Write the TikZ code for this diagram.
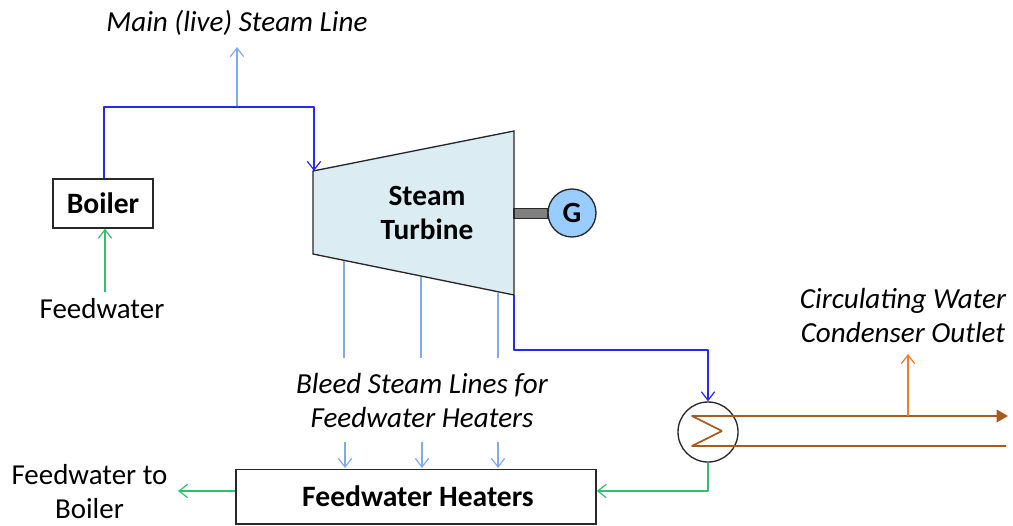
\documentclass[tikz,border=0pt]{standalone}
\usepackage{fontspec}
\setmainfont{Carlito}
\usetikzlibrary{arrows.meta,calc}
\definecolor{steamblue}{RGB}{40,40,245}
\definecolor{bleedblue}{RGB}{130,170,230}
\definecolor{fwgreen}{RGB}{50,190,110}
\definecolor{cwbrown}{RGB}{165,90,30}
\definecolor{cworange}{RGB}{237,125,49}
\definecolor{turbfill}{RGB}{219,236,243}
\definecolor{genfill}{RGB}{153,204,255}
\definecolor{boxline}{RGB}{40,40,40}
\tikzset{
  x=0.75pt,y=-0.75pt,
  openhead/.style={-{Straight Barb[length=6.5pt,width=10pt,line width=0.9pt]}},
  pipe/.style={line width=1.1pt,line join=round},
  steam/.style={pipe,steamblue},
  bleed/.style={pipe,bleedblue},
  feed/.style={pipe,fwgreen},
  cw/.style={pipe,cwbrown,line width=1.2pt},
  cwup/.style={pipe,cworange},
  boxnode/.style={draw=boxline,line width=1pt,fill=white,inner sep=0pt,font=\fontsize{22.2}{26}\selectfont\bfseries},
  lbl/.style={inner sep=0pt,align=center,font=\fontsize{21.7}{25.5}\selectfont},
  ilbl/.style={lbl,font=\fontsize{21.8}{25.5}\selectfont\itshape},
}
\begin{document}
\begin{tikzpicture}
\useasboundingbox (0,0) rectangle (1013,525);
% turbine
\coordinate (tA) at (313,171);
\coordinate (tB) at (514,131);
\coordinate (tC) at (514,295);
\coordinate (tD) at (313,254);
\draw[fill=turbfill,draw=boxline,line width=1pt,line join=miter] (tA) -- (tB) -- (tC) -- (tD) -- cycle;
\node[lbl,font=\fontsize{22}{25.5}\selectfont\bfseries] (turbine) at (427,213) {Steam\\Turbine};
% generator
\node[draw=boxline,fill=gray,line width=0.8pt,inner sep=0pt,minimum width=25.5pt,minimum height=8pt] (shaft) at (531,213.5) {};
\node[circle,draw=boxline,fill=genfill,line width=1pt,minimum size=36pt,inner sep=0pt,font=\fontsize{22}{26}\selectfont\bfseries] (gen) at (572,213) {G};
% boxes
\node[boxnode,minimum width=75pt,minimum height=36.75pt] (boiler) at (103,203.5) {Boiler};
\node[boxnode,minimum width=270pt,minimum height=41pt] (heaters) at (416,496.5) {\kern3pt Feedwater Heaters};
\node[circle,draw=boxline,line width=1pt,minimum size=45pt,inner sep=0pt] (cond) at (708,432) {};
% labels
\node[ilbl] (mainl) at (237,22.5) {Main (live) Steam Line};
\node[lbl] (fw) at (102,308.5) {Feedwater};
\node[ilbl] (bleedl) at (422,401) {Bleed Steam Lines for\\Feedwater Heaters};
\node[ilbl] (cwl) at (903,316) {Circulating Water\\Condenser Outlet};
\node[lbl] (fwb) at (89.5,492) {Feedwater to\\Boiler};
% free ends and bends
\coordinate (bTop) at (104,107);
\coordinate (tTop) at (314,107);
\coordinate (mainTop) at (237,47);
\coordinate (mainJ) at (237,107);
\coordinate (fwS) at (105,292);
\coordinate (exA) at (514,350);
\coordinate (exB) at (708,350);
\coordinate (fbA) at (708,491);
\coordinate (b1) at (344,261); \coordinate (b1e) at (344,358);
\coordinate (b2) at (421,277); \coordinate (b2e) at (421,358);
\coordinate (b3) at (498,293); \coordinate (b3e) at (498,358);
\coordinate (h1s) at (345,442); \coordinate (h1e) at (345,468);
\coordinate (h2s) at (422,442); \coordinate (h2e) at (422,468);
\coordinate (h3s) at (498,442); \coordinate (h3e) at (498,468);
\coordinate (cwTl) at (692,416); \coordinate (cwTr) at (1008,416);
\coordinate (cwBl) at (692,446); \coordinate (cwBr) at (1006,446);
\coordinate (cwM) at (722,431);
\coordinate (cwJ) at (908,416); \coordinate (cwUp) at (908,354);
\coordinate (leftEnd) at (178,491);
% steam
\draw[bleed,openhead] (mainJ) -- (mainTop);
\draw[steam,openhead] (bTop |- boiler.north) -- (bTop) -- (tTop) -- (tTop |- tA);
\draw[steam,openhead] (tC) -- (exA) -- (exB) -- (cond.north);
\draw[feed,openhead] (fwS) -- (fwS |- boiler.south);
% bleed
\draw[bleed] (b1) -- (b1e);
\draw[bleed] (b2) -- (b2e);
\draw[bleed] (b3) -- (b3e);
\draw[bleed,openhead] (h1s) -- (h1e);
\draw[bleed,openhead] (h2s) -- (h2e);
\draw[bleed,openhead] (h3s) -- (h3e);
% condenser water
\draw[cw,-{Triangle[length=8.5pt,width=9.5pt]}] (cwM) -- (cwTl) -- (cwTr);
\draw[cw] (cwM) -- (cwBl) -- (cwBr);
\draw[cwup,openhead] (cwJ) -- (cwUp);
% feedwater
\draw[feed,openhead] (cond.south) -- (fbA) -- (fbA -| heaters.east);
\draw[feed,openhead] (leftEnd -| heaters.west) -- (leftEnd);
\end{tikzpicture}
\end{document}
